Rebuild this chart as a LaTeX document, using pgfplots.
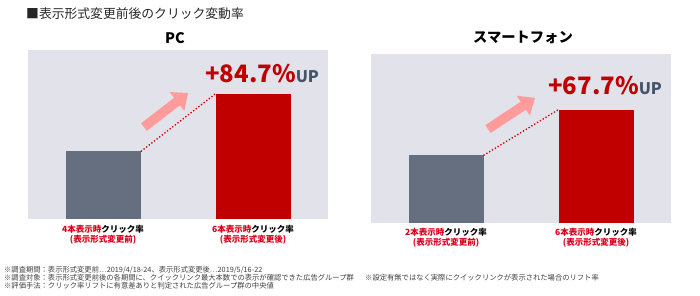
\documentclass[border=0pt]{standalone}
\usepackage{fontspec}
\setmainfont{Noto Sans CJK JP}
\usepackage{pgfplots}
\pgfplotsset{compat=1.18}
\usetikzlibrary{arrows.meta}
\definecolor{bgc}{HTML}{E2E3EA}
\definecolor{barGray}{HTML}{666F80}
\definecolor{barRed}{HTML}{C00000}
\definecolor{arrowPink}{HTML}{FF9B9B}
\definecolor{upGray}{HTML}{44546A}
\definecolor{labRed}{HTML}{D9001B}
\definecolor{noteGray}{HTML}{404040}
\pgfplotsset{
  panel/.style={
    anchor=south west, scale only axis, width=300pt, height=169pt,
    xmin=-0.5, xmax=1.5, ymin=0, ymax=2.5, enlargelimits=false,
    axis background/.style={fill=bgc}, axis line style={draw=none},
    ytick=\empty, xtick={0,1}, major tick length=0pt,
    xticklabel style={align=center, inner sep=0pt, font=\fontsize{8.5}{10.5}\selectfont\bfseries},
    ybar, bar width=75pt, bar shift=0pt, clip=false,
  }
}
\begin{document}
\begin{tikzpicture}
\path[use as bounding box] (0pt,0pt) rectangle (700pt,296pt);
% title
\node[anchor=west, inner sep=0pt, font=\fontsize{12.8}{14}\selectfont, text=black!85] at (26pt,282pt) {■表示形式変更前後のクリック変動率};
\node[inner sep=0pt, font=\fontsize{14.5}{16}\selectfont\bfseries] at (175pt,258pt) {PC};
\node[inner sep=0pt, font=\fontsize{14.3}{16}\selectfont\bfseries] at (523pt,259pt) {スマートフォン};

% left panel
\begin{axis}[panel, at={(28pt,77pt)},
  xticklabel style={yshift=-6pt},
  xticklabels={{\textcolor{labRed}{4本表示時}クリック率\\\textcolor{labRed}{(表示形式変更前)}},
               {\textcolor{labRed}{6本表示時}クリック率\\\textcolor{labRed}{(表示形式変更後)}}}]
\addplot[fill=barGray, draw=none] coordinates {(0,1)};
\addplot[fill=barRed, draw=none] coordinates {(1,1.847)};
\addplot[sharp plot, barRed, dotted, line width=1.3pt] coordinates {(0.253,1) (0.747,1.847)};
\draw[line width=9.5pt, arrowPink, -{Triangle[length=14pt,width=23pt]}] (axis cs:0.273,1.36) -- (axis cs:0.567,1.864);
\end{axis}

% right panel
\begin{axis}[panel, at={(371pt,73pt)},
  xticklabel style={yshift=-5pt},
  xticklabels={{\textcolor{labRed}{2本表示時}クリック率\\\textcolor{labRed}{(表示形式変更前)}},
               {\textcolor{labRed}{6本表示時}クリック率\\\textcolor{labRed}{(表示形式変更後)}}}]
\addplot[fill=barGray, draw=none] coordinates {(0,1)};
\addplot[fill=barRed, draw=none] coordinates {(1,1.677)};
\addplot[sharp plot, barRed, dotted, line width=1.3pt] coordinates {(0.25,1) (0.75,1.677)};
\draw[line width=9.5pt, arrowPink, -{Triangle[length=14pt,width=23pt]}] (axis cs:0.28,1.39) -- (axis cs:0.593,1.85);
\end{axis}

% big labels
\node[anchor=base west, inner sep=0pt] at (205pt,213pt) {\textcolor{barRed}{\fontsize{24}{24}\selectfont\bfseries +84.7\%}\textcolor{upGray}{\fontsize{16}{16}\selectfont\bfseries UP}};
\node[anchor=base west, inner sep=0pt] at (548pt,201pt) {\textcolor{barRed}{\fontsize{24}{24}\selectfont\bfseries +67.7\%}\textcolor{upGray}{\fontsize{16}{16}\selectfont\bfseries UP}};

% footnotes
\begin{scope}[every node/.style={anchor=west, inner sep=0pt, text=noteGray, font=\fontsize{7.3}{8}\selectfont}]
\node at (4pt,26pt) {※調査期間：表示形式変更前…2019/4/18-24、表示形式変更後…2019/5/16-22};
\node at (4pt,18pt) {※調査対象：表示形式変更前後の各期間に、クイックリンク最大本数での表示が確認できた広告グループ群};
\node at (365pt,18pt) {※設定有無ではなく実際にクイックリンクが表示された場合のリフト率};
\node at (4pt,10pt) {※評価手法：クリック率リフトに有意差ありと判定された広告グループ群の中央値};
\end{scope}
\end{tikzpicture}
\end{document}
